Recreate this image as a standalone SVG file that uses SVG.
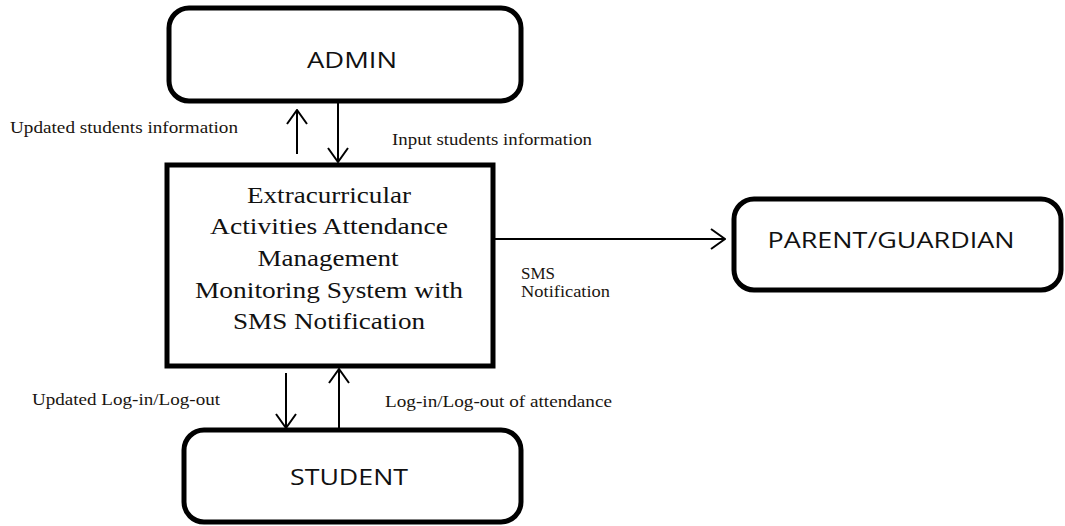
<svg xmlns="http://www.w3.org/2000/svg" width="1065" height="526" viewBox="0 0 1065 526">
  <defs>
    <marker id="open-arrow" markerUnits="userSpaceOnUse" viewBox="0 0 16 22" refX="15" refY="11" markerWidth="16" markerHeight="22" orient="auto">
      <path d="M1,1 L15,11 L1,21" fill="none" stroke="#000" stroke-width="2"/>
    </marker>
  </defs>
  <style>
    .entity { fill: #fff; stroke: #000; stroke-width: 5; }
    .process { fill: #fff; stroke: #000; stroke-width: 5; }
    .entity-label { font-family: "Open Sans", "Liberation Sans", sans-serif; font-size: 21px; fill: #111; text-anchor: middle; }
    .process-label { font-family: "Liberation Serif", "Times New Roman", serif; font-size: 23px; fill: #111; text-anchor: middle; }
    .flow { fill: none; stroke: #000; stroke-width: 2; marker-end: url(#open-arrow); }
    .flow-label { font-family: "Liberation Serif", "Times New Roman", serif; font-size: 16.5px; fill: #1a1510; }
  </style>
  <rect width="1065" height="526" fill="#fff"/>

  <!-- external entities -->
  <g id="admin">
    <rect class="entity" x="169" y="8" width="352" height="93" rx="20"/>
    <text class="entity-label" x="352" y="68" textLength="90" lengthAdjust="spacingAndGlyphs">ADMIN</text>
  </g>
  <g id="parent-guardian">
    <rect class="entity" x="734" y="199" width="327" height="91" rx="20"/>
    <text class="entity-label" x="891" y="248" textLength="247" lengthAdjust="spacingAndGlyphs">PARENT/GUARDIAN</text>
  </g>
  <g id="student">
    <rect class="entity" x="184" y="430" width="337" height="92" rx="20"/>
    <text class="entity-label" x="349" y="485" textLength="118" lengthAdjust="spacingAndGlyphs">STUDENT</text>
  </g>

  <!-- central process -->
  <g id="system">
    <rect class="process" x="167" y="165" width="326" height="201"/>
    <text class="process-label" x="329" y="203" textLength="164" lengthAdjust="spacingAndGlyphs">Extracurricular</text>
    <text class="process-label" x="329" y="234" textLength="238" lengthAdjust="spacingAndGlyphs">Activities Attendance</text>
    <text class="process-label" x="328" y="266" textLength="141" lengthAdjust="spacingAndGlyphs">Management</text>
    <text class="process-label" x="329" y="298" textLength="268" lengthAdjust="spacingAndGlyphs">Monitoring System with</text>
    <text class="process-label" x="329" y="329" textLength="192" lengthAdjust="spacingAndGlyphs">SMS Notification</text>
  </g>

  <!-- data flows -->
  <g id="connectors">
    <path class="flow" d="M297,154 L297,110"/>
    <path class="flow" d="M338,103 L338,162"/>
    <path class="flow" d="M495,239 L725,239"/>
    <path class="flow" d="M286,373 L286,428"/>
    <path class="flow" d="M339,428 L339,369"/>

    <text class="flow-label" x="10" y="133" textLength="228" lengthAdjust="spacingAndGlyphs">Updated students information</text>
    <text class="flow-label" x="392" y="145" textLength="200" lengthAdjust="spacingAndGlyphs">Input students information</text>
    <text class="flow-label" x="521" y="279" textLength="34" lengthAdjust="spacingAndGlyphs">SMS</text>
    <text class="flow-label" x="521" y="297" textLength="89" lengthAdjust="spacingAndGlyphs">Notification</text>
    <text class="flow-label" x="32" y="405" textLength="188" lengthAdjust="spacingAndGlyphs">Updated Log-in/Log-out</text>
    <text class="flow-label" x="385" y="407" textLength="227" lengthAdjust="spacingAndGlyphs">Log-in/Log-out of attendance</text>
  </g>
</svg>
